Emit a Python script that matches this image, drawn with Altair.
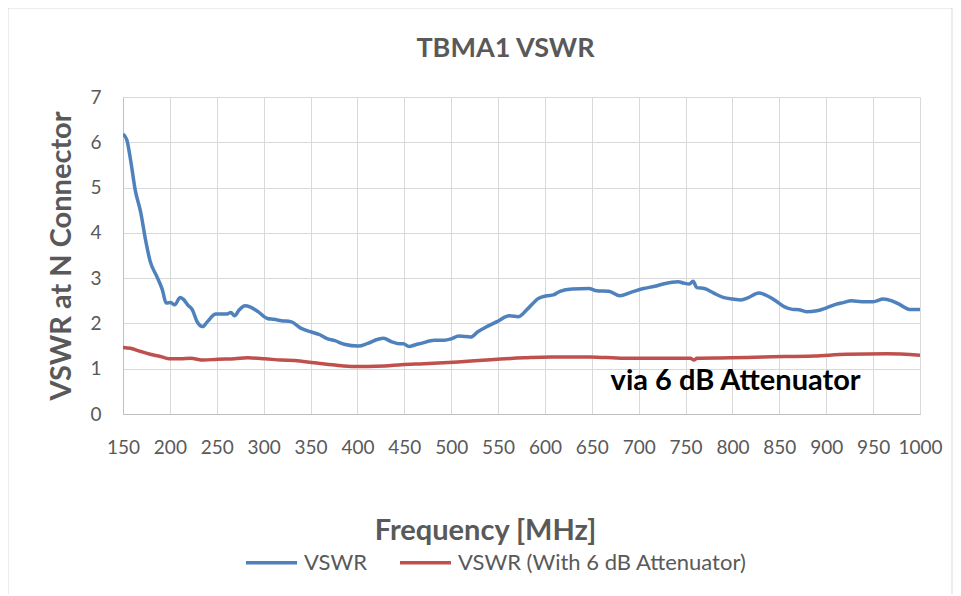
import altair as alt
import pandas as pd

# ---- data ----
vswr_freq = [150, 154, 158, 163, 169, 174, 179, 186, 192, 196, 201, 205, 211, 215, 219, 224,
             229, 235, 240, 249, 261, 265, 269, 274, 280, 286, 294, 304, 311, 319, 329, 340,
             351, 360, 367, 376, 386, 401, 411, 422, 428, 436, 445, 449, 455, 462, 468, 482,
             493, 500, 508, 521, 528, 539, 549, 562, 572, 581, 593, 602, 609, 616, 629, 647,
             655, 668, 680, 691, 705, 717, 726, 742, 748, 754, 758, 762, 770, 780, 791, 800,
             809, 817, 828, 839, 846, 855, 864, 871, 879, 890, 901, 910, 918, 927, 938, 950,
             961, 970, 979, 989, 1000]
vswr_vals = [6.18, 6.06, 5.62, 4.95, 4.44, 3.85, 3.37, 3.04, 2.74, 2.45, 2.46, 2.41, 2.57, 2.52, 2.41, 2.30,
             2.04, 1.93, 2.04, 2.21, 2.21, 2.24, 2.17, 2.30, 2.39, 2.36, 2.26, 2.11, 2.09, 2.06, 2.04, 1.89,
             1.81, 1.75, 1.67, 1.62, 1.54, 1.50, 1.56, 1.65, 1.67, 1.60, 1.55, 1.55, 1.49, 1.53, 1.56, 1.63,
             1.63, 1.66, 1.72, 1.70, 1.81, 1.94, 2.04, 2.17, 2.15, 2.31, 2.55, 2.61, 2.63, 2.71, 2.76, 2.77,
             2.72, 2.71, 2.61, 2.68, 2.77, 2.82, 2.87, 2.92, 2.89, 2.87, 2.93, 2.79, 2.77, 2.67, 2.57, 2.54,
             2.52, 2.57, 2.67, 2.59, 2.50, 2.37, 2.31, 2.30, 2.26, 2.28, 2.35, 2.42, 2.46, 2.50, 2.48, 2.48,
             2.54, 2.50, 2.41, 2.31, 2.31]

att_freq = [150, 158, 169, 179, 190, 199, 211, 222, 236, 251, 269, 283, 301, 319, 333, 354,
            376, 397, 411, 429, 447, 471, 507, 542, 578, 606, 648, 684, 719, 755, 759, 762,
            798, 833, 887, 922, 965, 1000]
att_vals = [1.47, 1.45, 1.38, 1.32, 1.27, 1.22, 1.22, 1.23, 1.19, 1.21, 1.22, 1.24, 1.22, 1.19, 1.18, 1.13,
            1.08, 1.05, 1.05, 1.06, 1.09, 1.11, 1.15, 1.20, 1.24, 1.26, 1.26, 1.23, 1.23, 1.23, 1.19, 1.23,
            1.24, 1.26, 1.28, 1.32, 1.33, 1.30]

series_names = ["VSWR", "VSWR (With 6 dB Attenuator)"]
series_colors = ["#4f81bd", "#c0504d"]
x_ticks = list(range(150, 1001, 50))
y_ticks = list(range(0, 8))
annotation_text = ["via 6 dB Attenuator"]
annotation_x = [670]
annotation_y = [0.73]

df = pd.concat([
    pd.DataFrame({"freq": vswr_freq, "vswr": vswr_vals, "series": series_names[0]}),
    pd.DataFrame({"freq": att_freq, "vswr": att_vals, "series": series_names[1]}),
])
ann = pd.DataFrame({"freq": annotation_x, "vswr": annotation_y, "label": annotation_text})

FONT = "Lato"
GREY = "#595959"

border = alt.Chart(pd.DataFrame({"a": [0]})).mark_rect(
    fill=None, stroke="#d9d9d9", strokeWidth=1
).encode(x=alt.value(-115), x2=alt.value(829), y=alt.value(-89), y2=alt.value(520))

lines = alt.Chart(df).mark_line(strokeWidth=3.5, clip=True, interpolate="monotone").encode(
    x=alt.X("freq:Q",
            scale=alt.Scale(domain=[150, 1000], nice=False, zero=False),
            axis=alt.Axis(values=x_ticks, format="d", title="Frequency [MHz]", ticks=False,
                          labelPadding=24, labelFontSize=19, labelColor=GREY,
                          titleFontSize=29, titleFontWeight="bold", titleColor=GREY,
                          titleX=362, titleY=116, titleBaseline="middle",
                          gridColor="#d9d9d9", domainColor="#bfbfbf", labelFlush=False)),
    y=alt.Y("vswr:Q",
            scale=alt.Scale(domain=[0, 7], nice=False),
            axis=alt.Axis(values=y_ticks, title="VSWR at N Connector", ticks=False,
                          labelPadding=22, labelFontSize=19, labelColor=GREY,
                          titleFontSize=29, titleFontWeight="bold", titleColor=GREY,
                          titlePadding=13, gridColor="#d9d9d9", domainColor="#bfbfbf")),
    color=alt.Color("series:N",
                    scale=alt.Scale(domain=series_names, range=series_colors),
                    sort=series_names,
                    legend=alt.Legend(title=None, orient="none", legendX=121, legendY=438,
                                      direction="horizontal", symbolType="stroke",
                                      symbolStrokeWidth=3.5, symbolSize=2600,
                                      labelFontSize=22, labelColor=GREY, labelFont=FONT,
                                      labelLimit=500, columnPadding=26, labelOffset=5)),
    order="freq:Q",
    detail="series:N",
)

text = alt.Chart(ann).mark_text(
    align="left", baseline="middle", fontSize=29, fontWeight="bold", color="black", font=FONT
).encode(x="freq:Q", y="vswr:Q", text="label:N")

chart = alt.layer(border, lines, text).properties(
    width=797, height=317,
    title=alt.TitleParams("TBMA1 VSWR", fontSize=27, fontWeight="bold", color=GREY,
                          font=FONT, anchor="middle", dx=-16, dy=55, offset=0),
    autosize=alt.AutoSizeParams(type="none"),
    padding={"left": 115, "top": 89, "right": 33, "bottom": 180},
).configure(font=FONT).configure_view(stroke=None).configure_axis(labelFont=FONT, titleFont=FONT)

chart.save("out.html", embed_options={"renderer": "svg", "actions": False})
